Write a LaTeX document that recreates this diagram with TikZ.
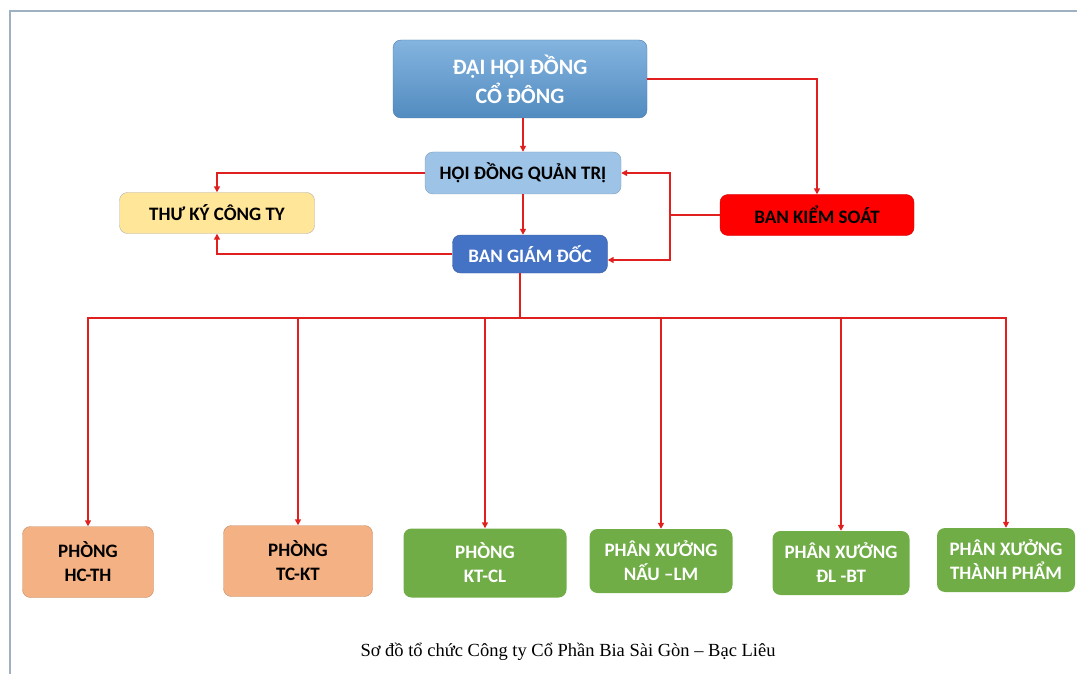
\documentclass[tikz,border=0pt]{standalone}
\usepackage{fontspec}
\setmainfont{Carlito}
\newfontfamily\capfont{Liberation Serif}
\usepackage{xcolor}
\usetikzlibrary{arrows.meta}
\definecolor{linered}{HTML}{E0201E}
\definecolor{frameblue}{HTML}{9FB0C2}
\definecolor{topblue}{HTML}{5B9BD5}
\definecolor{lightblue}{HTML}{9DC3E6}
\definecolor{darkblue}{HTML}{4472C4}
\definecolor{paleyellow}{HTML}{FFE699}
\definecolor{salmon}{HTML}{F4B183}
\definecolor{leafgreen}{HTML}{70AD47}
\tikzstyle{arrow} = [linered,line width=1.5pt,-{Triangle[length=6pt,width=6pt]}]

\begin{document}
\begin{tikzpicture}
        [
            x=1pt,y=-1pt,
            box/.style={rectangle,rounded corners=8pt,align=center,font=\bfseries\fontsize{19}{23}\selectfont},
            unit/.style={box,minimum height=67pt,font=\bfseries\fontsize{19}{24}\selectfont},
            line/.style={linered,line width=1.5pt},
        ]
    \useasboundingbox (0,0) rectangle (1077,674);
    \draw[frameblue,line width=2.5pt] (10,674) -- (10,11) -- (1077,11);

    % upper levels
    \node[box,top color=topblue!75,bottom color=topblue!90!black,draw=topblue!80!black,text=white,
          minimum width=254pt,minimum height=78pt,font=\bfseries\fontsize{22}{29}\selectfont]
          (dhdcd) at (520,79) {ĐẠI HỘI ĐỒNG\\CỔ ĐÔNG};
    \node[box,fill=lightblue,draw=lightblue!80!black,minimum width=196pt,minimum height=42pt] (hdqt) at (523,173) {HỘI ĐỒNG QUẢN TRỊ};
    \node[box,fill=paleyellow,draw=gray!60,minimum width=195pt,minimum height=41pt] (tk) at (217,213) {THƯ KÝ CÔNG TY};
    \node[box,fill=darkblue,draw=darkblue!80!black,text=white,minimum width=155pt,minimum height=38pt] (bgd) at (530,254) {BAN GIÁM ĐỐC};
    \node[box,fill=red,draw=red!80!black,minimum width=194pt,minimum height=41pt] (bks) at (817,215) {BAN KIỂM SOÁT};

    % departments
    \node[unit,fill=salmon,draw=salmon!80!black,minimum width=131pt,minimum height=71pt] (hcth) at (88,562) {PHÒNG\\HC-TH};
    \node[unit,fill=salmon,draw=salmon!80!black,minimum width=149pt,minimum height=71pt] (tckt) at (298,561) {PHÒNG\\TC-KT};
    \node[unit,fill=leafgreen,text=white,minimum width=163pt,minimum height=69pt] (ktcl) at (485,563) {PHÒNG\\KT-CL};
    \node[unit,fill=leafgreen,text=white,minimum width=143pt,minimum height=64pt] (nau) at (661,561) {PHÂN XƯỞNG\\NẤU –LM};
    \node[unit,fill=leafgreen,text=white,minimum width=137pt,minimum height=64pt] (dlbt) at (841,563) {PHÂN XƯỞNG\\ĐL -BT};
    \node[unit,fill=leafgreen,text=white,minimum width=138pt,minimum height=64pt] (tp) at (1006,560) {PHÂN XƯỞNG\\THÀNH PHẨM};

    \node[font=\capfont\fontsize{18.5}{22}\selectfont] (cap) at (568,652) {Sơ đồ tổ chức Công ty Cổ Phần Bia Sài Gòn – Bạc Liêu};

    % connectors
    \draw[arrow] (dhdcd.south -| hdqt.north) -- (hdqt.north);
    \draw[arrow] (dhdcd.east) -| (bks.north);
    \draw[arrow] (hdqt.south) -- (hdqt.south |- bgd.north);
    \draw[arrow] (hdqt.west) -| (tk.north);
    \draw[arrow] (bgd.west) -| (tk.south);
    \coordinate (ks) at (670,215);
    \draw[line] (bks.west) -- (ks);
    \draw[arrow] (ks) |- (hdqt.east);
    \draw[arrow] (ks) |- ([yshift=-6pt]bgd.east);
    \coordinate (bus) at (520,318);
    \draw[line] (bgd.south -| bus) -- (bus);
    \foreach \unit in {hcth,tckt,ktcl,nau,dlbt,tp}
        \draw[arrow] (bus) -| (\unit.north);
    \end{tikzpicture}
\end{document}
